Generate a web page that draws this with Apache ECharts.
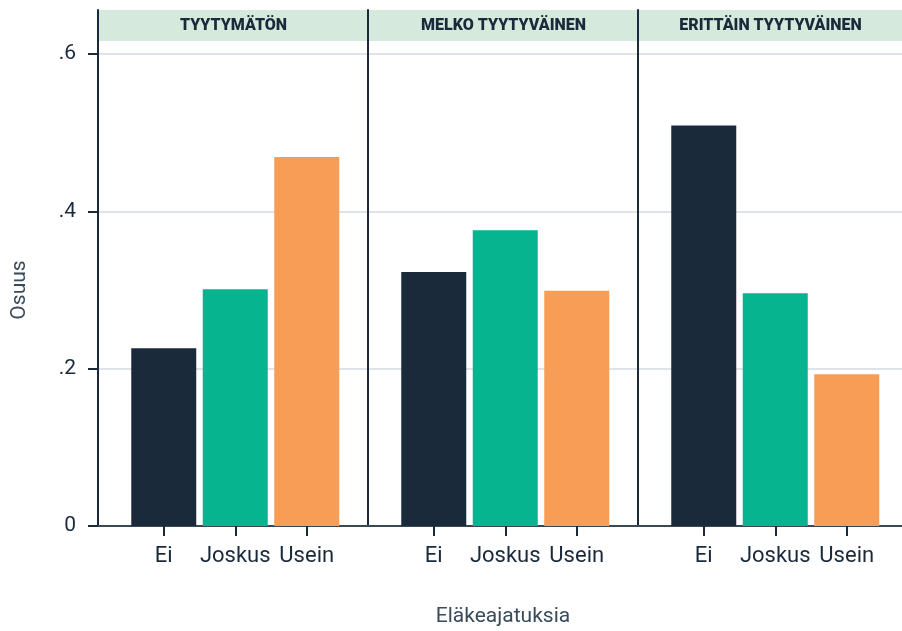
<!DOCTYPE html>
<html>
<head>
<meta charset="utf-8">
<script src="https://cdn.jsdelivr.net/npm/echarts@6/dist/echarts.min.js"></script>
<style>
  html, body { margin: 0; padding: 0; background: #fff; }
  #main { width: 902px; height: 631px; }
</style>
</head>
<body>
<div id="main"></div>
<script>
var chart = echarts.init(document.getElementById('main'));

// data
var panels = ['TYYTYMÄTÖN', 'MELKO TYYTYVÄINEN', 'ERITTÄIN TYYTYVÄINEN'];
var categories = ['Ei', 'Joskus', 'Usein'];
var values = [
  [0.226, 0.301, 0.469],
  [0.323, 0.376, 0.299],
  [0.509, 0.296, 0.193]
];
var yTicks = [0, 0.2, 0.4, 0.6];

var colors = ['#1b2a3a', '#06b48f', '#f89d55'];
var dark = '#1b2a3a';
var font = 'Roboto, sans-serif';

var panelLeft = 98, panelW = 270, plotTop = 54, plotBottom = 526;

var grids = [], xAxes = [], yAxes = [], series = [], graphics = [];

for (var k = 0; k < 3; k++) {
  var left = panelLeft + panelW * k;

  // panel grid: gridlines, y labels, zero line
  grids.push({ left: left, top: plotTop, width: panelW, height: plotBottom - plotTop, outerBoundsMode: 'none' });
  xAxes.push({
    gridIndex: grids.length - 1, type: 'value', min: 0, max: 1,
    axisLine: { show: true, lineStyle: { color: '#3a4856', width: 2 } },
    axisTick: { show: false }, axisLabel: { show: false }, splitLine: { show: false },
    name: k === 1 ? 'Eläkeajatuksia' : '', nameLocation: 'middle', nameGap: 80,
    nameTextStyle: { fontFamily: font, fontSize: 21, color: '#3a4a5a' }
  });
  yAxes.push({
    gridIndex: grids.length - 1, type: 'value', min: yTicks[0], max: yTicks[yTicks.length - 1], interval: 0.2,
    axisLine: { show: false },
    axisTick: { show: k === 0, length: 10, lineStyle: { color: dark, width: 2 } },
    axisLabel: {
      show: k === 0, margin: 22, fontFamily: font, fontSize: 21, color: dark,
      formatter: function (v) { return v === 0 ? '0' : String(+v.toFixed(1)).replace(/^0/, ''); }
    },
    splitLine: { show: true, lineStyle: { color: '#dfe3e7', width: 2 } },
    name: k === 0 ? 'Osuus' : '', nameLocation: 'middle', nameGap: 68,
    nameTextStyle: { fontFamily: font, fontSize: 21, color: '#3a4a5a' }
  });

  // frame grid: tall vertical separator line
  grids.push({ left: left, top: 10, width: panelW, height: plotBottom - 10, outerBoundsMode: 'none' });
  xAxes.push({ gridIndex: grids.length - 1, type: 'value', min: 0, max: 1, show: false });
  yAxes.push({
    gridIndex: grids.length - 1, type: 'value', min: 0, max: 1,
    axisLine: { show: true, lineStyle: { color: dark, width: 2 } },
    axisTick: { show: false }, axisLabel: { show: false }, splitLine: { show: false }
  });

  // bar grid
  grids.push({ left: left + 30, top: plotTop, width: 214.5, height: plotBottom - plotTop, outerBoundsMode: 'none' });
  var gi = grids.length - 1;
  xAxes.push({
    gridIndex: gi, type: 'category', data: categories,
    axisLine: { show: false },
    axisTick: { show: true, alignWithLabel: true, length: 10, lineStyle: { color: dark, width: 2 } },
    axisLabel: { interval: 0, hideOverlap: false, margin: 19, fontFamily: font, fontSize: 22, color: dark }
  });
  yAxes.push({ gridIndex: gi, type: 'value', min: 0, max: 0.6, show: false });
  series.push({
    type: 'bar', xAxisIndex: gi, yAxisIndex: gi, barWidth: 65,
    data: values[k].map(function (v, i) {
      return { value: v, itemStyle: { color: colors[i] } };
    })
  });

  // header strip
  var hw = Math.min(panelW, 902 - left) - 1;
  graphics.push({
    type: 'rect', z: -1,
    shape: { x: left + 1, y: 10, width: hw, height: 31 },
    style: { fill: '#d5eadd' }
  });
  graphics.push({
    type: 'text', z: 1, x: left + 1 + hw / 2, y: 25.5,
    style: {
      text: panels[k], fill: dark, font: '900 16px Roboto, sans-serif',
      textAlign: 'center', textVerticalAlign: 'middle'
    }
  });
}

chart.setOption({
  animation: false,
  backgroundColor: '#fff',
  grid: grids,
  xAxis: xAxes,
  yAxis: yAxes,
  series: series,
  graphic: graphics
});
</script>
</body>
</html>
